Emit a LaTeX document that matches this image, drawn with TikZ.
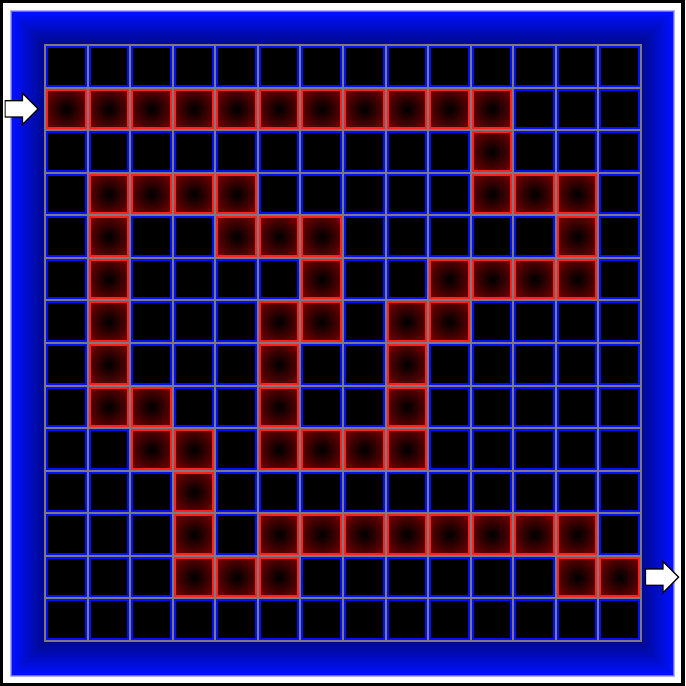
\documentclass[tikz,border=0pt]{standalone}
\usetikzlibrary{positioning, shapes.arrows}
\definecolor{mzgrid}{HTML}{7A7A80}
\definecolor{mzwall}{HTML}{0010FF}
\definecolor{mzred}{HTML}{FF2020}
\definecolor{mzdeep}{HTML}{BE0000}
\pgfdeclareradialshading{cellglow}{\pgfpointorigin}{color(0bp)=(black); color(8bp)=(black!85!mzdeep); color(48bp)=(mzdeep); color(72bp)=(mzdeep!85!red)}

\begin{document}
\begin{tikzpicture}[x=0.5mm, y=-0.5mm,
    darkcell/.style={rectangle, minimum size=21.285mm, inner sep=0pt, outer sep=0pt,
                 fill=black, draw=mzgrid, line width=1mm,
                 path picture={\draw[mzwall, line width=3mm] (path picture bounding box.south west) rectangle (path picture bounding box.north east);}},
    redcell/.style={darkcell, shading=cellglow,
                 path picture={\draw[mzred, line width=3mm] (path picture bounding box.south west) rectangle (path picture bounding box.north east);}},
    gate/.style={single arrow, draw=black, fill=white, line width=0.6mm, inner sep=3.75mm,
                 minimum width=0pt, minimum height=16.5mm, single arrow head extend=3.75mm}
  ]
    \useasboundingbox (0,0) rectangle (685,686);
    % frame
    \fill[black] (0,0) rectangle (685,686);
    \fill[white] (3,3) rectangle (681,683);
    \fill[blue!30!white] (10,10) rectangle (675,677);
    \fill[blue!60!white] (11,11) rectangle (674,676);
    \foreach \i in {0,...,33} {
      \pgfmathsetmacro\lev{100-1.4*\i}
      \fill[mzwall!\lev!black] ({12+\i},{12+\i}) rectangle ({673-\i},{675-\i});
    }
    % cells on the path
    \foreach \r/\cols in {1/{0,1,2,3,4,5,6,7,8,9,10}, 2/{10}, 3/{1,2,3,4,10,11,12},
        4/{1,4,5,6,12}, 5/{1,6,9,10,11,12}, 6/{1,5,6,8,9}, 7/{1,5,8}, 8/{1,2,5,8},
        9/{2,3,5,6,7,8}, 10/{3}, 11/{3,5,6,7,8,9,10,11,12}, 12/{3,4,5,12,13}} {
      \foreach \c in \cols {\expandafter\gdef\csname onpath-\r-\c\endcsname{}}
    }
    % grid
    \foreach \r in {0,...,13} {
      \foreach \c in {0,...,13} {
        \ifcsname onpath-\r-\c\endcsname
          \tikzset{cur/.style=redcell}
        \else
          \tikzset{cur/.style=darkcell}
        \fi
        \node[cur] (cell-\r-\c) at ({45+42.57*(\c+0.5)},{45+42.57*(\r+0.5)}) {};
      }
    }
    % entry and exit
    \node[gate, left=3mm of cell-1-0] (arrowin) {};
    \node[gate, right=2mm of cell-12-13] (arrowout) {};
  \end{tikzpicture}
\end{document}
